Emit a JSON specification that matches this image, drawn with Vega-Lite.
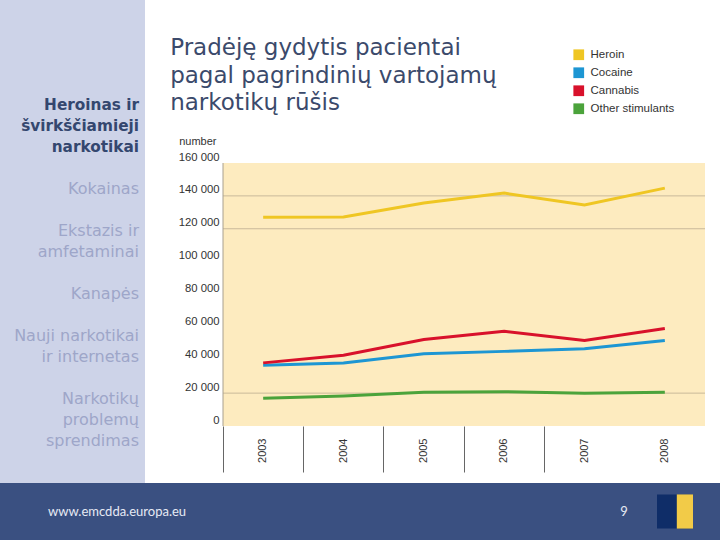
{
  "$schema": "https://vega.github.io/schema/vega-lite/v6.json",
  "padding": 0,
  "background": "#ffffff",
  "spacing": 0,
  "config": {
    "view": {"stroke": null},
    "font": "Liberation Sans",
    "axis": {"labelFont": "Liberation Sans", "titleFont": "Liberation Sans"},
    "legend": {"labelFont": "Liberation Sans"}
  },
  "vconcat": [
    {
      "spacing": 25,
      "hconcat": [
        {
          "width": 145,
          "height": 483,
          "view": {"fill": "#cdd3e8", "stroke": null},
          "data": {"values": [
            {"id": "h1", "label": "Heroinas ir", "active": true},
            {"id": "h2", "label": "švirkščiamieji", "active": true},
            {"id": "h3", "label": "narkotikai", "active": true},
            {"id": "k1", "label": "Kokainas", "active": false},
            {"id": "e1", "label": "Ekstazis ir", "active": false},
            {"id": "e2", "label": "amfetaminai", "active": false},
            {"id": "c1", "label": "Kanapės", "active": false},
            {"id": "n1", "label": "Nauji narkotikai", "active": false},
            {"id": "n2", "label": "ir internetas", "active": false},
            {"id": "p1", "label": "Narkotikų", "active": false},
            {"id": "p2", "label": "problemų", "active": false},
            {"id": "p3", "label": "sprendimas", "active": false}
          ]},
          "encoding": {
            "y": {"field": "id", "type": "nominal", "axis": null,
              "scale": {"type": "point", "padding": 0,
                "domain": ["t0","t1","t2","t3","t4","h1","h2","h3","b1","k1","b2","e1","e2","b3","c1","b4","n1","n2","b5","p1","p2","p3","t22","t23"]}},
            "x": {"value": "width"},
            "text": {"field": "label"}
          },
          "layer": [
            {
              "transform": [{"filter": "datum.active"}],
              "mark": {"type": "text", "align": "right", "baseline": "middle", "font": "DejaVu Sans", "fontSize": 15.3, "fontWeight": "bold", "color": "#34476f", "dx": -6}
            },
            {
              "transform": [{"filter": "!datum.active"}],
              "mark": {"type": "text", "align": "right", "baseline": "middle", "font": "DejaVu Sans", "fontSize": 16, "color": "#9ea6c9", "dx": -6}
            }
          ]
        },
        {
          "width": 482,
          "height": 483,
          "title": {
            "text": ["Pradėję gydytis pacientai", "pagal pagrindinių vartojamų", "narkotikų rūšis"],
            "font": "DejaVu Sans",
            "fontSize": 23,
            "fontWeight": "normal",
            "lineHeight": 27.5,
            "color": "#3b4a6b",
            "anchor": "start",
            "frame": "bounds",
            "dx": -8,
            "offset": -115
          },
          "layer": [
            {
              "data": {"values": [{"plot": "area"}]},
              "mark": {"type": "rect", "color": "#fdebbf"},
              "encoding": {
                "y": {"datum": 160000, "type": "quantitative"},
                "y2": {"datum": 0}
              }
            },
            {
              "data": {"values": [{"grid": 20000}, {"grid": 120000}, {"grid": 140000}]},
              "mark": {"type": "rule", "color": "#c9b99a", "strokeWidth": 1},
              "encoding": {
                "y": {"field": "grid", "type": "quantitative"}
              }
            },
            {
              "data": {"values": [{"plot": "border"}]},
              "mark": {"type": "rule", "color": "#a8a090", "strokeWidth": 1},
              "encoding": {
                "x": {"datum": "2003", "type": "ordinal", "bandPosition": 0},
                "y": {"datum": 0, "type": "quantitative"},
                "y2": {"datum": 160000}
              }
            },
            {
              "data": {"values": [
                {"year": "2003", "drug": "Heroin", "clients": 127000},
                {"year": "2004", "drug": "Heroin", "clients": 127200},
                {"year": "2005", "drug": "Heroin", "clients": 135600},
                {"year": "2006", "drug": "Heroin", "clients": 141700},
                {"year": "2007", "drug": "Heroin", "clients": 134400},
                {"year": "2008", "drug": "Heroin", "clients": 144700},
                {"year": "2003", "drug": "Cocaine", "clients": 36900},
                {"year": "2004", "drug": "Cocaine", "clients": 38400},
                {"year": "2005", "drug": "Cocaine", "clients": 44000},
                {"year": "2006", "drug": "Cocaine", "clients": 45400},
                {"year": "2007", "drug": "Cocaine", "clients": 47000},
                {"year": "2008", "drug": "Cocaine", "clients": 52000},
                {"year": "2003", "drug": "Cannabis", "clients": 38400},
                {"year": "2004", "drug": "Cannabis", "clients": 43000},
                {"year": "2005", "drug": "Cannabis", "clients": 52600},
                {"year": "2006", "drug": "Cannabis", "clients": 57600},
                {"year": "2007", "drug": "Cannabis", "clients": 52000},
                {"year": "2008", "drug": "Cannabis", "clients": 59300},
                {"year": "2003", "drug": "Other stimulants", "clients": 16900},
                {"year": "2004", "drug": "Other stimulants", "clients": 18300},
                {"year": "2005", "drug": "Other stimulants", "clients": 20600},
                {"year": "2006", "drug": "Other stimulants", "clients": 20900},
                {"year": "2007", "drug": "Other stimulants", "clients": 19900},
                {"year": "2008", "drug": "Other stimulants", "clients": 20600}
              ]},
              "mark": {"type": "line", "strokeWidth": 3},
              "encoding": {
                "x": {"field": "year", "type": "ordinal",
                  "scale": {"type": "band", "paddingInner": 0, "paddingOuter": 0},
                  "axis": {"title": null, "domain": false, "grid": false, "labelAngle": -90, "labelAlign": "right", "labelBaseline": "middle",
                    "offset": -57,
                    "bandPosition": 0, "tickSize": 46, "tickColor": "#666666", "tickWidth": 1,
                    "tickOpacity": {"condition": {"test": "datum.value == '2008'", "value": 0}, "value": 1},
                    "labelPadding": -34, "labelFontSize": 11, "labelColor": "#333333"}},
                "y": {"field": "clients", "type": "quantitative",
                  "scale": {"domain": [-34676, 259164], "nice": false, "zero": false},
                  "axis": {"title": "number", "titleAngle": 0, "titleX": -7, "titleY": 141, "titleAlign": "right", "titleBaseline": "middle",
                    "titleFontSize": 11, "titleFontWeight": "normal", "titleColor": "#333333",
                    "values": [0, 20000, 40000, 60000, 80000, 100000, 120000, 140000, 160000],
                    "labelExpr": "replace(format(datum.value, ','), ',', ' ')",
                    "labelBaseline": "bottom", "labelOffset": -1, "labelPadding": 4, "labelFontSize": 11.3, "labelColor": "#333333",
                    "ticks": false, "domain": false, "grid": false}},
                "color": {"field": "drug", "type": "nominal",
                  "scale": {"domain": ["Heroin", "Cocaine", "Cannabis", "Other stimulants"], "range": ["#efc623", "#1d96d3", "#d8112b", "#4ba33b"]},
                  "legend": {"orient": "none", "legendX": 573, "legendY": 49, "title": null, "symbolType": "square", "symbolSize": 115,
                    "symbolStrokeWidth": 0, "labelFontSize": 11.5, "labelColor": "#333333", "rowPadding": 5, "labelOffset": 6, "padding": 0,
                    "encode": {"symbols": {"update": {"fill": {"scale": "color", "field": "value"}, "strokeWidth": {"value": 0}}}}}}
              }
            }
          ]
        }
      ]
    },
    {
      "width": 720,
      "height": 57,
      "view": {"fill": "#3a5081", "stroke": null},
      "data": {"values": [
        {"item": "url", "label": "www.emcdda.europa.eu"},
        {"item": "page", "label": "9"},
        {"item": "logo", "label": "EMCDDA"}
      ]},
      "encoding": {
        "x": {"field": "item", "type": "nominal", "axis": null,
          "scale": {"type": "point", "padding": 0, "domain": ["s0","url","s2","s3","s4","s5","s6","s7","s8","s9","s10","s11","s12","page","logo","s15"]}}
      },
      "layer": [
        {"transform": [{"filter": "datum.item == 'url'"}],
         "mark": {"type": "text", "align": "left", "baseline": "middle", "font": "Lato", "fontSize": 13, "color": "#e6eaf4"},
         "encoding": {"text": {"field": "label"}}},
        {"transform": [{"filter": "datum.item == 'page'"}],
         "mark": {"type": "text", "align": "center", "baseline": "middle", "font": "Lato", "fontSize": 13, "color": "#e6eaf4"},
         "encoding": {"text": {"field": "label"}}},
        {"transform": [{"filter": "datum.item == 'logo'"}],
         "mark": {"type": "point", "filled": true, "shape": "M-1,-0.95H1V0.95H-1Z", "size": 1296, "color": "#0f2d68", "opacity": 1},
         "encoding": {"xOffset": {"value": 3}}},
        {"transform": [{"filter": "datum.item == 'logo'"}],
         "mark": {"type": "point", "filled": true, "shape": "M0.1,-0.95H1V0.95H0.1Z", "size": 1296, "color": "#f2cb48", "opacity": 1},
         "encoding": {"xOffset": {"value": 3}}}
      ]
    }
  ]
}
